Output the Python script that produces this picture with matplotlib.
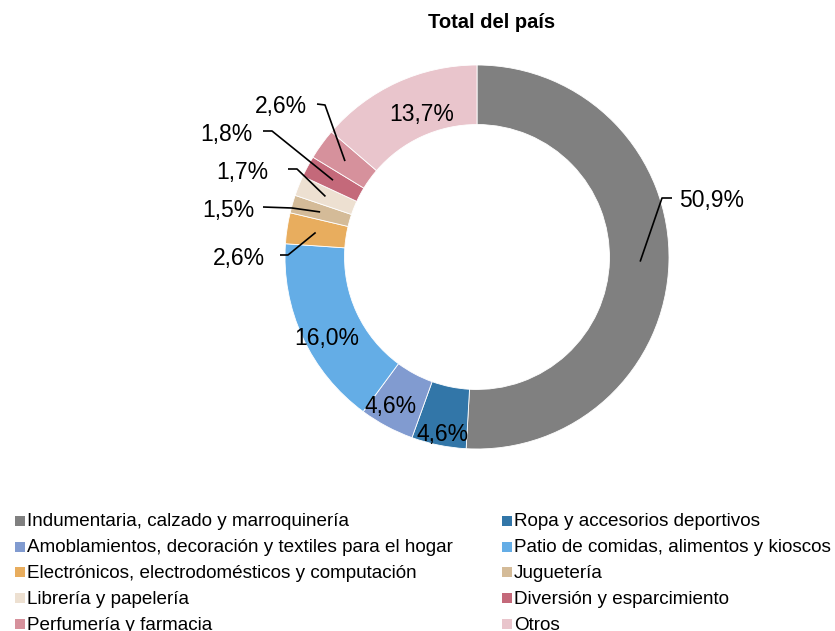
import numpy as np
import matplotlib.pyplot as plt
from matplotlib.patches import Rectangle

plt.rcParams['font.family'] = ['Liberation Sans', 'DejaVu Sans']

categories = ['Indumentaria, calzado y marroquinería',
              'Ropa y accesorios deportivos',
              'Amoblamientos, decoración y textiles para el hogar',
              'Patio de comidas, alimentos y kioscos',
              'Electrónicos, electrodomésticos y computación',
              'Juguetería',
              'Librería y papelería',
              'Diversión y esparcimiento',
              'Perfumería y farmacia',
              'Otros']
values = [50.9, 4.6, 4.6, 16.0, 2.6, 1.5, 1.7, 1.8, 2.6, 13.7]
labels = ['50,9%', '4,6%', '4,6%', '16,0%', '2,6%', '1,5%', '1,7%', '1,8%', '2,6%', '13,7%']
colors = ['#808080', '#3276a8', '#819bd0', '#64ade6', '#e8ad5e',
          '#d4bb98', '#ede0d1', '#c4697a', '#d6919c', '#e9c5cc']

W, H = 835, 631
cx, cy, R = 477, 257, 192

fig = plt.figure(figsize=(W / 100, H / 100), dpi=100)
ax = fig.add_axes([(cx - R) / W, (H - cy - R) / H, 2 * R / W, 2 * R / H])

wedges, _ = ax.pie(values, colors=colors, startangle=90, counterclock=False,
                   radius=1, wedgeprops=dict(width=0.31, edgecolor='white', linewidth=0.6))
ax.set_xlim(-1, 1)
ax.set_ylim(-1, 1)
ax.set_aspect('equal')
ax.axis('off')


def px(x, y):
    # pixel position -> data coords of the pie axes
    return (x - cx) / R, (cy - y) / R


# label placement: (text x, text y, ha, line points or None)
place = [
    (679, 201, 'left', [(672, 198), (662, 198)]),
    (443, 434, 'center', None),
    (391, 407, 'center', None),
    (327, 338, 'center', None),
    (265, 258, 'right', [(280, 255), (288, 255)]),
    (255, 210, 'right', [(263, 207), (292, 208)]),
    (268, 172, 'right', [(288, 169), (297, 169)]),
    (253, 135, 'right', [(263, 131), (272, 131)]),
    (307, 107, 'right', [(317, 104), (325, 105)]),
    (422, 114, 'center', None),
]

for w, lab, (tx, ty, ha, line) in zip(wedges, labels, place):
    x, y = px(tx, ty)
    ax.text(x, y, lab, ha=ha, va='center', fontsize=16.5, clip_on=False)
    if line is not None:
        mid = np.deg2rad((w.theta1 + w.theta2) / 2)
        pts = [px(*p) for p in line] + [(0.85 * np.cos(mid), 0.85 * np.sin(mid))]
        ax.plot([p[0] for p in pts], [p[1] for p in pts], color='black', lw=1.2,
                clip_on=False, solid_capstyle='butt')

fig.text(492 / W, 1 - 23 / H, 'Total del país', ha='center', va='center',
         fontsize=14.5, fontweight='bold')

# legend, two columns
col_x = [15, 502]
row_y = [522, 548, 573, 599, 625]
for i, (name, c) in enumerate(zip(categories, colors)):
    mx = col_x[i % 2]
    my = row_y[i // 2]
    fig.add_artist(Rectangle((mx / W, 1 - (my + 4) / H), 10 / W, 10 / H,
                             transform=fig.transFigure, facecolor=c, edgecolor='none'))
    fig.text((mx + 12) / W, 1 - my / H, name, ha='left', va='center', fontsize=13.6)

fig.savefig('out.png', dpi=100)
